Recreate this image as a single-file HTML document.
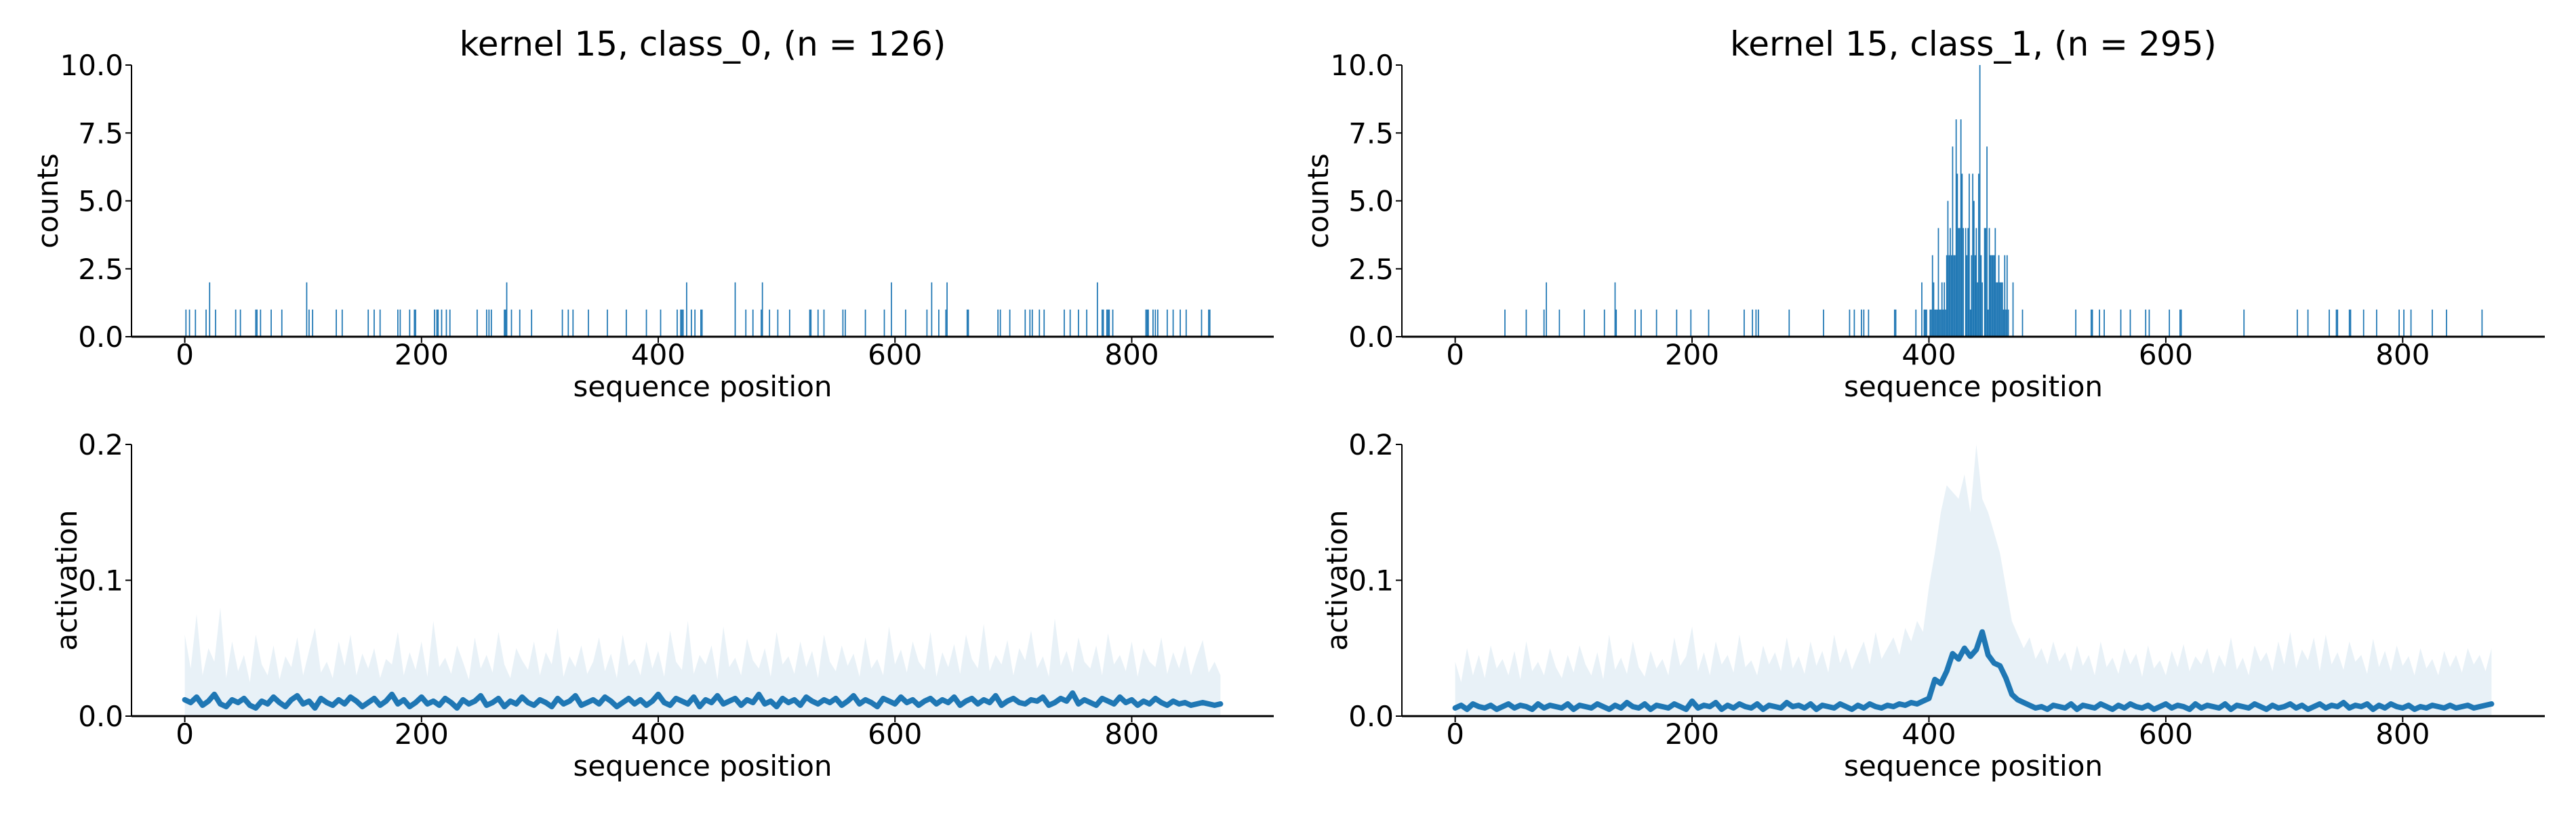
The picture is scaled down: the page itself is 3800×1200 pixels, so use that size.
<!DOCTYPE html>
<html><head><meta charset="utf-8"><style>
html,body{margin:0;padding:0;background:#fff;}
svg{display:block;font-family:"DejaVu Sans","Liberation Sans",sans-serif;}
</style></head><body>
<svg id="fig" width="3800" height="1200" viewBox="0 0 3800 1200" xmlns="http://www.w3.org/2000/svg"></svg>
<script>
// ---------- data ----------
const xTicks = [0,200,400,600,800];
const countTicks = [0,2.5,5,7.5,10];
const countTickLabels = ["0.0","2.5","5.0","7.5","10.0"];
const actTicks = [0,0.1,0.2];
const actTickLabels = ["0.0","0.1","0.2"];
const titles = ["kernel 15, class_0, (n = 126)","kernel 15, class_1, (n = 295)"];

// class_0 counts
const pos0 = [1,4,9,18,21,26,43,47,60,61,
64,73,82,103,105,108,128,133,155,160,
165,180,182,190,194,195,211,213,214,217,
221,224,247,255,257,259,270,271,272,276,
283,293,319,324,328,341,357,373,390,402,
416,419,420,421,424,428,431,436,437,465,
474,480,487,488,494,501,511,528,529,535,
540,556,558,575,591,597,609,627,631,637,
643,644,661,662,687,689,697,710,714,716,
722,726,743,748,755,762,771,775,776,779,
780,781,784,812,813,814,818,820,822,830,
835,841,846,859,865,866];
const cnt0 = [1,1,1,1,2,1,1,1,1,1,
1,1,1,2,1,1,1,1,1,1,
1,1,1,1,1,1,1,1,1,1,
1,1,1,1,1,1,1,1,2,1,
1,1,1,1,1,1,1,1,1,1,
1,1,1,1,2,1,1,1,1,2,
1,1,1,2,1,1,1,1,1,1,
1,1,1,1,1,2,1,1,2,1,
1,2,1,1,1,1,1,1,1,1,
1,1,1,1,1,1,2,1,1,1,
1,1,1,1,1,1,1,1,1,1,
1,1,1,1,1,1];

// class_1 counts
const pos1 = [42,60,75,77,88,109,126,135,136,152,
157,170,187,199,214,244,251,254,256,282,
311,333,337,343,345,349,371,372,389,394,
396,397,398,401,402,403,404,405,406,407,
408,409,410,411,412,413,414,415,416,417,
418,419,420,421,422,423,424,425,426,427,
428,429,431,432,433,434,435,436,437,438,
439,440,441,442,443,444,445,447,448,449,
450,451,452,453,454,455,456,457,458,459,
460,461,462,463,464,465,466,467,471,479,
524,537,538,544,548,562,570,583,586,603,
612,613,666,711,720,738,744,745,755,756,
767,778,797,801,807,825,837,867];
const cnt1 = [1,1,1,2,1,1,1,2,1,1,
1,1,1,1,1,1,1,1,1,1,
1,1,1,1,1,1,1,1,1,2,
1,1,1,1,1,3,2,1,1,1,
4,1,1,2,1,2,1,3,5,3,
4,3,7,3,3,8,6,4,4,8,
6,4,4,3,4,6,1,3,6,5,
3,4,2,6,10,3,2,4,4,7,
1,4,3,3,3,3,4,2,2,3,
2,2,2,1,3,1,3,1,2,1,
1,1,1,1,1,1,1,1,1,1,
1,1,1,1,1,1,1,1,1,1,
1,1,1,1,1,1,1,1];

// activation, sampled every 5 positions (0..875)
const actStep = 5;
const mean0 = [0.012,0.010,0.014,0.008,0.011,0.016,0.009,0.007,0.012,0.010,
0.013,0.008,0.006,0.011,0.009,0.014,0.010,0.007,0.012,0.015,
0.009,0.011,0.006,0.013,0.010,0.008,0.012,0.009,0.014,0.011,
0.007,0.010,0.013,0.008,0.011,0.016,0.009,0.012,0.007,0.010,
0.014,0.009,0.011,0.008,0.013,0.010,0.006,0.012,0.009,0.011,
0.015,0.008,0.010,0.013,0.007,0.011,0.009,0.014,0.010,0.008,
0.012,0.010,0.007,0.013,0.009,0.011,0.015,0.008,0.010,0.012,
0.009,0.014,0.011,0.007,0.010,0.013,0.009,0.012,0.008,0.011,
0.016,0.010,0.008,0.013,0.011,0.009,0.014,0.007,0.012,0.010,
0.015,0.009,0.011,0.013,0.008,0.012,0.010,0.016,0.009,0.011,
0.007,0.013,0.010,0.012,0.008,0.014,0.011,0.009,0.012,0.010,
0.013,0.008,0.011,0.015,0.009,0.012,0.010,0.007,0.013,0.011,
0.009,0.014,0.010,0.012,0.008,0.011,0.013,0.009,0.012,0.010,
0.014,0.008,0.011,0.013,0.009,0.012,0.010,0.015,0.008,0.011,
0.013,0.010,0.009,0.012,0.011,0.014,0.008,0.010,0.013,0.011,
0.017,0.009,0.012,0.010,0.008,0.013,0.011,0.009,0.014,0.010,
0.012,0.008,0.011,0.009,0.013,0.010,0.008,0.011,0.009,0.010,
0.008,0.009,0.010,0.009,0.008,0.009];
const upper0 = [0.060,0.035,0.075,0.030,0.050,0.040,0.080,0.028,0.055,0.033,
0.045,0.025,0.060,0.038,0.030,0.052,0.027,0.044,0.036,0.058,
0.030,0.048,0.065,0.032,0.040,0.028,0.055,0.037,0.060,0.030,
0.046,0.035,0.050,0.028,0.042,0.038,0.062,0.030,0.047,0.034,
0.055,0.029,0.070,0.036,0.043,0.031,0.052,0.040,0.027,0.058,
0.035,0.045,0.032,0.062,0.038,0.028,0.050,0.041,0.034,0.055,
0.030,0.047,0.038,0.065,0.029,0.044,0.036,0.052,0.031,0.040,
0.058,0.033,0.046,0.028,0.060,0.037,0.042,0.030,0.055,0.035,
0.048,0.029,0.063,0.040,0.034,0.070,0.031,0.045,0.038,0.052,
0.027,0.066,0.036,0.043,0.030,0.057,0.041,0.035,0.050,0.029,
0.062,0.038,0.044,0.031,0.055,0.036,0.048,0.028,0.060,0.040,
0.033,0.052,0.037,0.046,0.029,0.058,0.035,0.042,0.030,0.066,
0.038,0.049,0.032,0.055,0.040,0.034,0.062,0.029,0.047,0.036,
0.053,0.031,0.060,0.042,0.035,0.068,0.033,0.045,0.038,0.056,
0.030,0.050,0.041,0.063,0.035,0.044,0.029,0.072,0.037,0.048,
0.032,0.058,0.040,0.035,0.052,0.030,0.061,0.038,0.045,0.033,
0.055,0.029,0.050,0.040,0.036,0.058,0.031,0.047,0.035,0.052,
0.030,0.044,0.056,0.032,0.040,0.030];
const mean1 = [0.006,0.008,0.005,0.009,0.007,0.006,0.008,0.005,0.007,0.009,
0.006,0.008,0.007,0.005,0.009,0.006,0.008,0.007,0.006,0.009,
0.005,0.008,0.007,0.006,0.009,0.007,0.005,0.008,0.006,0.010,
0.007,0.006,0.009,0.005,0.008,0.007,0.006,0.009,0.007,0.005,
0.011,0.006,0.008,0.007,0.010,0.005,0.008,0.006,0.009,0.007,
0.006,0.009,0.005,0.008,0.007,0.006,0.010,0.007,0.008,0.006,
0.009,0.005,0.008,0.007,0.006,0.009,0.007,0.005,0.008,0.006,
0.009,0.007,0.006,0.008,0.007,0.009,0.008,0.010,0.009,0.011,
0.013,0.027,0.024,0.033,0.046,0.042,0.050,0.044,0.049,0.062,
0.045,0.039,0.037,0.028,0.016,0.012,0.010,0.008,0.006,0.007,
0.005,0.008,0.007,0.006,0.009,0.005,0.008,0.007,0.006,0.009,
0.007,0.005,0.008,0.006,0.009,0.007,0.006,0.008,0.005,0.007,
0.009,0.006,0.008,0.007,0.005,0.009,0.006,0.008,0.007,0.006,
0.009,0.005,0.008,0.007,0.006,0.009,0.007,0.005,0.008,0.006,
0.007,0.009,0.006,0.008,0.005,0.007,0.009,0.006,0.008,0.007,
0.010,0.006,0.008,0.007,0.009,0.005,0.008,0.006,0.009,0.007,
0.006,0.008,0.005,0.007,0.006,0.008,0.007,0.006,0.008,0.006,
0.007,0.008,0.006,0.007,0.008,0.009];
const upper1 = [0.040,0.025,0.050,0.030,0.045,0.028,0.052,0.035,0.042,0.030,
0.048,0.027,0.055,0.033,0.040,0.030,0.050,0.036,0.028,0.045,
0.032,0.052,0.038,0.030,0.047,0.027,0.060,0.034,0.043,0.031,
0.055,0.036,0.029,0.048,0.035,0.042,0.030,0.058,0.037,0.044,
0.066,0.033,0.047,0.030,0.055,0.038,0.045,0.032,0.060,0.036,
0.041,0.030,0.052,0.038,0.047,0.033,0.058,0.035,0.044,0.031,
0.055,0.037,0.048,0.032,0.060,0.039,0.050,0.034,0.045,0.055,
0.038,0.062,0.042,0.050,0.058,0.045,0.065,0.055,0.070,0.062,
0.095,0.120,0.150,0.170,0.165,0.160,0.178,0.150,0.200,0.160,
0.150,0.135,0.120,0.095,0.070,0.060,0.050,0.058,0.042,0.050,
0.038,0.055,0.040,0.047,0.033,0.052,0.037,0.045,0.030,0.055,
0.036,0.043,0.031,0.050,0.038,0.046,0.029,0.052,0.035,0.041,
0.030,0.048,0.036,0.053,0.033,0.044,0.038,0.050,0.031,0.045,
0.036,0.058,0.034,0.043,0.030,0.052,0.040,0.047,0.033,0.055,
0.038,0.062,0.035,0.049,0.041,0.058,0.033,0.060,0.038,0.047,
0.034,0.055,0.040,0.045,0.031,0.057,0.036,0.048,0.033,0.052,
0.037,0.044,0.030,0.050,0.035,0.042,0.030,0.048,0.036,0.045,
0.032,0.050,0.038,0.045,0.033,0.050];

// ---------- drawing ----------
const NS = "http://www.w3.org/2000/svg";
const svg = document.getElementById("fig");
const BLUE = "#1f77b4";
function mk(tag, attrs, parent){
  const e = document.createElementNS(NS, tag);
  for (const k in attrs) e.setAttribute(k, attrs[k]);
  (parent||svg).appendChild(e);
  return e;
}
const XMIN = -45, XMAX = 920;
function axisX(x0, w){ return d => x0 + (d - XMIN) / (XMAX - XMIN) * w; }
function axisY(top, h, max){ return v => top + h - v / max * h; }

function frame(g, x0, w, top, h, yTicks, yLabels, ylabel, ylabelX, sx, sy, namePrefix){
  xTicks.forEach(t => {
    const tk = mk("line", {x1:sx(t), x2:sx(t), y1:top+h, y2:top+h+9, stroke:"#000", "stroke-width":2}, g);
    
    
    const tl = mk("text", {x:sx(t), y:top+h+41, "text-anchor":"middle", "font-size":42, fill:"#000"}, g);
    tl.textContent = String(t);
    
    
  });
  yTicks.forEach((t,i) => {
    const tk = mk("line", {x1:x0-9, x2:x0, y1:sy(t), y2:sy(t), stroke:"#000", "stroke-width":2}, g);
    
    
    const tl = mk("text", {x:x0-12, y:sy(t)+15, "text-anchor":"end", "font-size":42, fill:"#000"}, g);
    tl.textContent = yLabels[i];
    
    
  });
  const ls = mk("line", {x1:x0, x2:x0, y1:top, y2:top+h, stroke:"#000", "stroke-width":2}, g);
  
  
  const bs = mk("line", {x1:x0, x2:x0+w, y1:top+h, y2:top+h, stroke:"#000", "stroke-width":3}, g);
  
  
  const xl = mk("text", {x:x0+w/2, y:top+h+88, "text-anchor":"middle", "font-size":42, fill:"#000"}, g);
  xl.textContent = "sequence position";
  
  
  const yl = mk("text", {x:0, y:0, "text-anchor":"middle", "font-size":42, fill:"#000",
    transform:`translate(${ylabelX},${top+h/2}) rotate(-90)`}, g);
  yl.textContent = ylabel;
  
  
}

function countsPanel(x0, w, title, pos, cnt, ylabX, name){
  const top = 96, h = 401;
  const g = mk("g", {});
  
  
  const sx = axisX(x0, w), sy = axisY(top, h, 10);
  const unit = sx(1) - sx(0);
  pos.forEach((p,i) => {
    const r = mk("rect", {x:sx(p)-unit/2, y:sy(cnt[i]), width:unit, height:sy(0)-sy(cnt[i]), fill:BLUE}, g);
    
    
  });
  frame(g, x0, w, top, h, countTicks, countTickLabels, "counts", ylabX, sx, sy, name);
  const t = mk("text", {x:x0+w/2, y:82, "text-anchor":"middle", "font-size":50, fill:"#000"}, g);
  t.textContent = title;
  
  
}

function actPanel(x0, w, mean, upper, ylabX, name){
  const top = 656, h = 401;
  const g = mk("g", {});
  
  
  const sx = axisX(x0, w), sy = axisY(top, h, 0.2);
  let d = "";
  upper.forEach((v,i) => { d += (i ? "L" : "M") + sx(i*actStep).toFixed(1) + "," + sy(v).toFixed(1); });
  d += "L" + sx((upper.length-1)*actStep).toFixed(1) + "," + sy(0.0005).toFixed(1);
  d += "L" + sx(0).toFixed(1) + "," + sy(0.0005).toFixed(1) + "Z";
  const band = mk("path", {d:d, fill:BLUE, "fill-opacity":0.1, stroke:"none"}, g);
  
  
  const pts = mean.map((v,i) => sx(i*actStep).toFixed(1) + "," + sy(v).toFixed(1)).join(" ");
  const ln = mk("polyline", {points:pts, fill:"none", stroke:BLUE, "stroke-width":8, "stroke-linejoin":"round", "stroke-linecap":"round"}, g);
  
  
  frame(g, x0, w, top, h, actTicks, actTickLabels, "activation", ylabX, sx, sy, name);
}

countsPanel(194, 1685, titles[0], pos0, cnt0, 85, "counts-chart-class-0");
countsPanel(2068, 1686, titles[1], pos1, cnt1, 1959, "counts-chart-class-1");
actPanel(194, 1685, mean0, upper0, 113, "activation-chart-class-0");
actPanel(2068, 1686, mean1, upper1, 1987, "activation-chart-class-1");
</script>
</body></html>
